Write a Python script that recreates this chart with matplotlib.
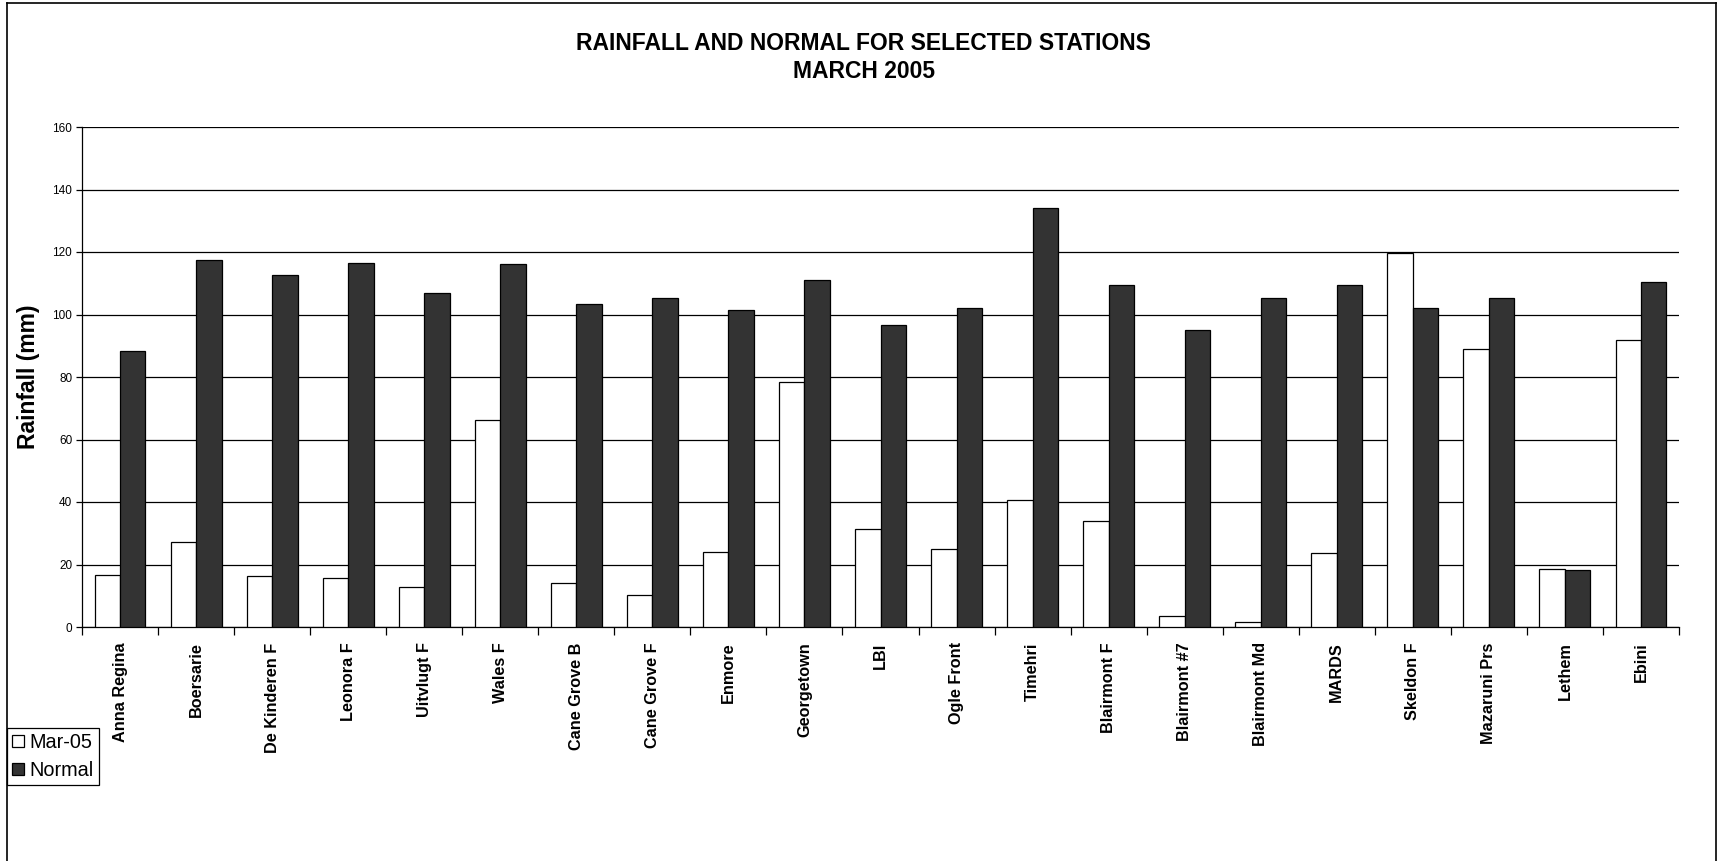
import matplotlib
matplotlib.use('Agg')
import matplotlib.pyplot as plt
from matplotlib.lines import Line2D
import numpy as np

plt.rcParams['font.family'] = ['Liberation Sans', 'DejaVu Sans']

stations = ['Anna Regina', 'Boersarie', 'De Kinderen F', 'Leonora F', 'Uitvlugt F',
            'Wales F', 'Cane Grove B', 'Cane Grove F', 'Enmore', 'Georgetown', 'LBI',
            'Ogle Front', 'Timehri', 'Blairmont F', 'Blairmont #7', 'Blairmont Md',
            'MARDS', 'Skeldon F', 'Mazaruni Prs', 'Lethem', 'Ebini']
mar05 = [16.6, 27.1, 16.2, 15.7, 12.7, 66.1, 14.1, 10.4, 23.9, 78.3, 31.3,
         24.9, 40.5, 33.8, 3.4, 1.7, 23.7, 119.7, 88.9, 18.5, 91.7]
normal = [88.2, 117.4, 112.6, 116.5, 106.9, 116.1, 103.3, 105.3, 101.4, 111.0, 96.6,
          102.1, 134.2, 109.4, 95.0, 105.3, 109.4, 102.1, 105.3, 18.2, 110.3]
yticks = [0, 20, 40, 60, 80, 100, 120, 140, 160]

fig = plt.figure(figsize=(17.17, 8.61), dpi=100)
ax = fig.add_axes([82 / 1717, 1 - 627 / 861, 1597 / 1717, 500 / 861])

x = np.arange(len(stations))
w = 0.335
b1 = ax.bar(x - w / 2, mar05, w, color='white', edgecolor='black', linewidth=0.9,
            label='Mar-05', zorder=3)
b2 = ax.bar(x + w / 2, normal, w, color='#333333', edgecolor='black', linewidth=0.9,
            label='Normal', zorder=3)

ax.set_xlim(-0.5, len(stations) - 0.5)
ax.set_ylim(0, 160)
ax.set_yticks(yticks)
ax.yaxis.grid(True, color='black', linewidth=0.9, zorder=0)
ax.set_axisbelow(True)
ax.tick_params(axis='y', labelsize=8.5, length=4, width=0.9, pad=3)

ax.set_xticks(x)
ax.set_xticklabels(stations, rotation=90, fontsize=11.7, fontweight='bold', va='top', ha='center')
ax.tick_params(axis='x', which='major', length=0, pad=11)
ax.set_xticks(np.arange(-0.5, len(stations)), minor=True)
ax.tick_params(axis='x', which='minor', length=6, width=0.9, direction='out')

for s in ['top', 'right']:
    ax.spines[s].set_visible(False)
for s in ['left', 'bottom']:
    ax.spines[s].set_linewidth(0.9)

ax.set_ylabel('Rainfall (mm)', fontsize=16.5, fontweight='bold')
ax.yaxis.set_label_coords(-0.026, 0.5)

fig.text(0.503, 1 - 49.5 / 861, 'RAINFALL AND NORMAL FOR SELECTED STATIONS',
         ha='center', va='baseline', fontsize=16.5, fontweight='bold')
fig.text(0.503, 1 - 78.5 / 861, 'MARCH 2005',
         ha='center', va='baseline', fontsize=16.5, fontweight='bold')

leg = fig.legend(handles=[b1, b2], labels=['Mar-05', 'Normal'], loc='upper left',
                 bbox_to_anchor=(7 / 1717, 1 - 728 / 861), fontsize=14.3,
                 fancybox=False, framealpha=1, edgecolor='black',
                 handlelength=0.6, handleheight=0.6, handletextpad=0.3,
                 borderpad=0.25, borderaxespad=0, labelspacing=0.45)
leg.get_frame().set_linewidth(0.9)

# outer border of the chart area
fig.add_artist(Line2D([7 / 1717, 7 / 1717], [0, 1 - 3 / 861], color='black', linewidth=1.2))
fig.add_artist(Line2D([7 / 1717, 1716 / 1717], [1 - 3 / 861, 1 - 3 / 861], color='black', linewidth=1.2))
fig.add_artist(Line2D([1716 / 1717, 1716 / 1717], [0, 1 - 3 / 861], color='black', linewidth=1.2))

fig.savefig('out.png', dpi=100)
